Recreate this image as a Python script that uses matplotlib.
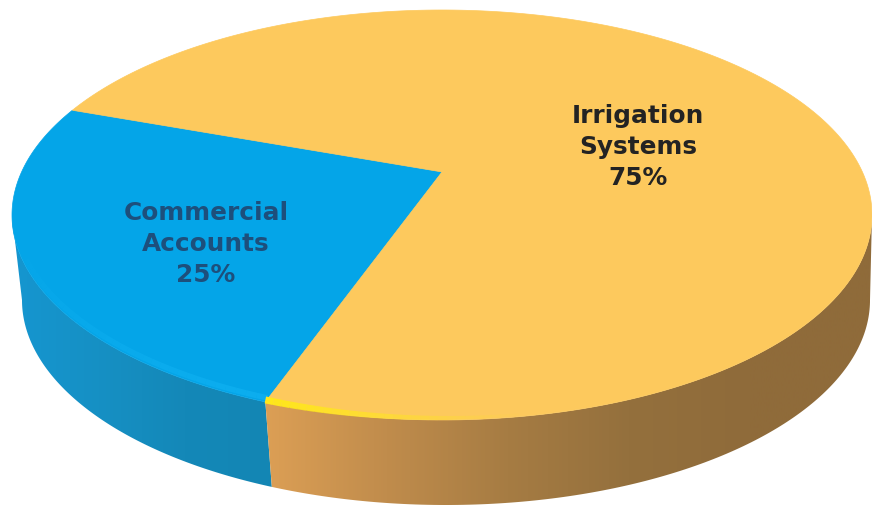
import numpy as np
import matplotlib
matplotlib.use("Agg")
import matplotlib.pyplot as plt
from matplotlib.colors import LinearSegmentedColormap
from matplotlib.patches import Polygon

labels = ["Commercial\nAccounts\n25%", "Irrigation\nSystems\n75%"]
shares = [25, 75]

START = 160.3          # where the first slice begins, on the undistorted circle
TILT = 0.21            # moves the apex off the ellipse centre (perspective)
TOP = (442, 215, 430, 205)
BASE = (446, 300, 424, 205)


def ring(deg, ell):
    # circle -> ellipse through a projective map, so equal angles keep the perspective look
    cx, cy, a, b = ell
    t = np.radians(deg)
    d = 1 + TILT * np.sin(t)
    x = np.cos(t) * np.sqrt(1 - TILT ** 2) / d
    y = (np.sin(t) + TILT) / d
    return cx + a * x, cy - b * y


def rim_poly(d0, d1):
    deg = np.linspace(d0, d1, 150)
    xt, yt = ring(deg, TOP)
    xb, yb = ring(deg[::-1], BASE)
    return np.column_stack([np.r_[xt, xb], np.r_[yt, yb]])


def gradient_side(ax, poly, stops):
    cmap = LinearSegmentedColormap.from_list("side", stops)
    x0, x1 = poly[:, 0].min(), poly[:, 0].max()
    im = ax.imshow(np.linspace(0, 1, 256)[None, :], cmap=cmap, aspect="auto",
                   extent=(x0, x1, 508, 0), zorder=1)
    clip = Polygon(poly, transform=ax.transData, fc="none", ec="none")
    ax.add_patch(clip)
    im.set_clip_path(clip)


fig = plt.figure(figsize=(8.72, 5.08), dpi=100)
ax = fig.add_axes([0, 0, 1, 1])

# slice edges on the circle
edges = START + 360 * np.cumsum([0] + shares) / sum(shares)
apex = (TOP[0], TOP[1] - TOP[3] * TILT)
blue, gold = "#04a5e8", "#fdc95d"

# side walls, only the front of the disc shows (from the left to the right extreme)
turn = np.degrees(np.arcsin(TILT))
gradient_side(ax, rim_poly(180 + turn, edges[1]), ["#1596d0", "#1690c4", "#1488b8", "#1386b4"])
gradient_side(ax, rim_poly(edges[1], 360 - turn),
              ["#dc9f55", "#c08c4c", "#a67c43", "#94703d", "#8f6b3a", "#8f6b3a"])

# top of the disc
for d0, d1, col in zip(edges[:-1], edges[1:], [blue, gold]):
    xs, ys = ring(np.linspace(d0, d1, 240), TOP)
    ax.fill(np.r_[apex[0], xs], np.r_[apex[1], ys], fc=col, ec=col, lw=0.5, zorder=2)

# bright bevel along the rim, blue part then the yellow streak next to the seam
bevel = np.linspace(edges[1], 200, 40)
xs, ys = ring(bevel, TOP)
for i in range(len(bevel) - 1):
    ax.plot(xs[i:i + 2] + 2, ys[i:i + 2] - 4, color="#12b4f4", lw=4, solid_capstyle="butt",
            alpha=0.6 * (1 - i / 39), zorder=3)
seam = np.linspace(edges[1], edges[1] + 28, 30)
xs, ys = ring(seam, TOP)
for i in range(len(seam) - 1):
    ax.plot(xs[i:i + 2], ys[i:i + 2] - 2, color="#ffe81a", lw=5 - 3 * i / 29, solid_capstyle="butt",
            alpha=1 - i / 29, zorder=3)

ax.text(206, 244, labels[0], ha="center", va="center", color="#1d4f7c", fontsize=17.8,
        fontweight="bold", family="DejaVu Sans", linespacing=1.37, zorder=4)
ax.text(638, 147, labels[1], ha="center", va="center", color="#232323", fontsize=17.8,
        fontweight="bold", family="DejaVu Sans", linespacing=1.37, zorder=4)

ax.set_xlim(0, 872)
ax.set_ylim(508, 0)
ax.axis("off")
fig.savefig("out.png", dpi=100)
